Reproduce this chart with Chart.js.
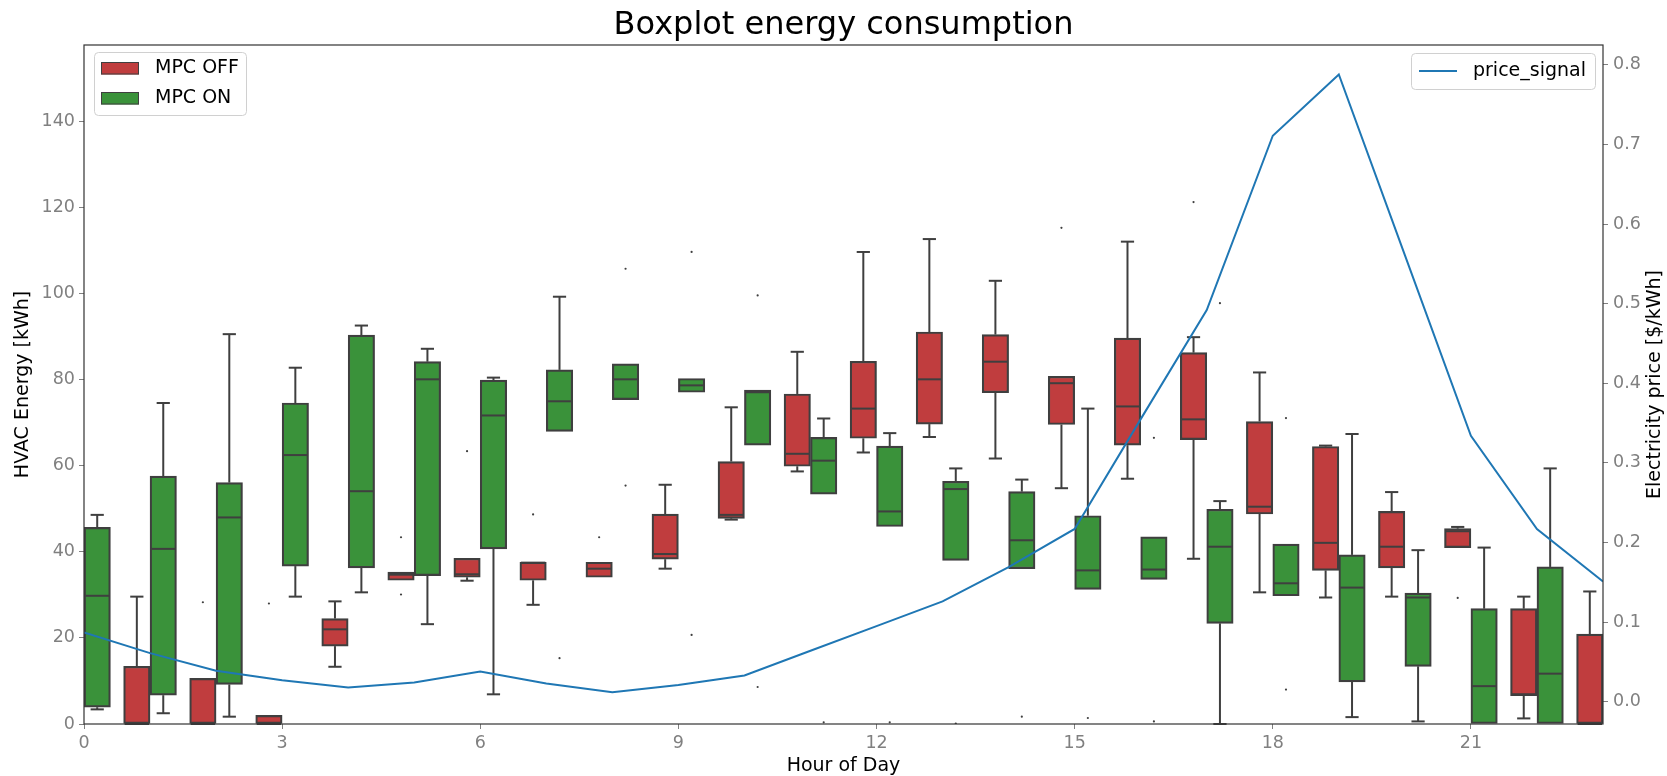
<!DOCTYPE html>
<html><head><meta charset="utf-8">
<script src="https://cdn.jsdelivr.net/npm/chart.js@4.4.1/dist/chart.umd.min.js"></script>
<style>html,body{margin:0;padding:0;background:#fff;}#wrap{width:1667px;height:776px;}</style>
</head><body><div id="wrap"><canvas id="c" width="1667" height="776"></canvas></div>
<script>
// ---------------- data ----------------
const hours = [0,1,2,3,4,5,6,7,8,9,10,11,12,13,14,15,16,17,18,19,20,21,22,23];
const xTicks = [0,3,6,9,12,15,18,21];
const energyTicks = [0,20,40,60,80,100,120,140];
const priceTicks = [0.0,0.1,0.2,0.3,0.4,0.5,0.6,0.7,0.8];

// MPC OFF (per hour): whisker low, Q1, median, Q3, whisker high
const offLow  = [null,0,0,0,13.3,33.4,33.3,27.7,34.1,36.1,47.5,58.7,63.1,66.7,61.7,54.8,57.0,38.4,30.6,29.4,29.6,41.0,1.3,0];
const offQ1   = [null,0,0,0,18.1,33.4,34.1,33.4,34.1,38.3,47.8,59.9,66.4,69.7,77.0,69.6,64.8,66.1,48.8,35.7,36.3,41.0,6.6,0];
const offMed  = [null,0,0,0,22.0,34.7,34.8,37.5,36.1,39.5,48.6,62.8,73.3,80.1,84.2,79.2,73.8,70.8,50.5,42.1,41.2,44.8,6.9,0];
const offQ3   = [null,13.4,10.6,2.0,24.5,35.3,38.5,37.6,37.6,48.8,61.0,76.7,84.3,91.1,90.5,80.8,89.7,86.3,70.3,64.5,49.4,45.4,26.8,20.9];
const offHigh = [null,29.6,10.6,2.0,28.5,35.3,38.5,37.6,37.6,55.6,73.6,86.5,109.7,112.7,103.0,80.8,112.1,89.9,81.7,64.7,53.9,45.8,29.6,30.8];
const offFliers = [[2,28.3],[3,28.0],[5,43.4],[5,30.1],[6,63.4],[7,48.7],[8,43.4],[15,115.3],[17,121.3],[21,29.3]];

// MPC ON (per hour)
const onLow  = [3.4,2.5,1.7,29.6,30.6,23.2,6.9,68.0,75.4,77.1,64.8,53.4,45.9,38.0,36.1,31.3,33.6,0,29.8,1.6,0.6,0,0,null];
const onQ1   = [3.9,6.7,9.2,36.7,36.3,34.5,40.7,68.0,75.4,77.1,64.8,53.4,45.9,38.0,36.1,31.3,33.6,23.4,29.8,9.8,13.4,0,0,null];
const onMed  = [29.8,40.7,48.0,62.5,54.1,80.1,71.7,75.0,80.1,78.7,77.1,61.2,49.4,54.6,42.7,35.7,35.9,41.2,32.7,31.7,29.4,8.8,11.7,null];
const onQ3   = [45.7,57.6,56.1,74.6,90.4,84.2,79.9,82.3,83.7,80.3,77.6,66.6,64.6,56.4,54.0,48.4,43.5,49.9,41.8,39.3,30.4,26.8,36.5,null];
const onHigh = [48.6,74.6,90.6,82.8,92.6,87.2,80.5,99.3,83.7,80.3,77.6,71.0,67.6,59.4,56.8,73.3,43.5,51.8,41.8,67.4,40.4,41.0,59.4,null];
const onFliers = [[7,15.3],[8,105.8],[8,55.4],[9,109.7],[9,20.7],[10,99.6],[10,8.6],[11,0.4],[12,0.4],[13,0.1],[14,1.7],[15,1.4],[16,66.5],[16,0.6],[17,97.8],[18,71.1],[18,8.0]];

// electricity price signal per hour
const priceSignal = [0.087,0.061,0.039,0.027,0.018,0.024,0.038,0.023,0.012,0.021,0.033,0.064,0.095,0.126,0.169,0.217,0.355,0.492,0.711,0.788,0.561,0.334,0.217,0.151];

// ---------------- style ----------------
const RED = '#c03d3e', GREEN = '#3a923a', EDGE = '#3f3f3f', BLUE = '#1f77b4';
const TICK = '#808080', FONT = "'DejaVu Sans', sans-serif";
const OFF_SHIFT = -0.2, ON_SHIFT = 0.2;

function boxData(shift, q1, q3) {
  return hours.map((h, i) => ({x: h + shift, y: q1[i] == null ? null : [q1[i], q3[i]]}));
}
function flierData(shift, list) {
  return list.map(([h, v]) => ({x: h + shift, y: v}));
}

const boxParts = {
  id: 'boxParts',
  afterDatasetDraw(chart, args) {
    const ds = chart.data.datasets[args.index];
    const st = ds.stats;
    if (!st) return;
    const ys = chart.scales.y, ctx = chart.ctx, a = chart.chartArea;
    const p = v => ys.getPixelForValue(v);
    ctx.save();
    ctx.beginPath(); ctx.rect(a.left, a.top, a.right - a.left, a.bottom - a.top + 3); ctx.clip();
    ctx.strokeStyle = EDGE; ctx.lineWidth = 2;
    const seg = (x1, y1, x2, y2) => { ctx.beginPath(); ctx.moveTo(x1, y1); ctx.lineTo(x2, y2); ctx.stroke(); };
    args.meta.data.forEach((bar, i) => {
      if (st.q1[i] == null) return;
      const cx = bar.x, w = bar.width;
      if (st.hi[i] > st.q3[i]) { seg(cx, p(st.q3[i]), cx, p(st.hi[i])); seg(cx - w/4, p(st.hi[i]), cx + w/4, p(st.hi[i])); }
      if (st.lo[i] < st.q1[i]) { seg(cx, p(st.q1[i]), cx, p(st.lo[i])); seg(cx - w/4, p(st.lo[i]), cx + w/4, p(st.lo[i])); }
      seg(cx - w/2 + 1, p(st.med[i]), cx + w/2 - 1, p(st.med[i]));
    });
    ctx.restore();
  }
};

const decorations = {
  id: 'decorations',
  afterDraw(chart) {
    const ctx = chart.ctx, a = chart.chartArea;
    ctx.save();
    // frame
    ctx.strokeStyle = '#333'; ctx.lineWidth = 1.2;
    ctx.strokeRect(a.left, a.top, a.right - a.left, a.bottom - a.top);
    // right axis title (reads bottom to top)
    ctx.fillStyle = '#000'; ctx.font = '19px ' + FONT;
    ctx.textAlign = 'center'; ctx.textBaseline = 'middle';
    ctx.translate(1655, (a.top + a.bottom) / 2);
    ctx.rotate(-Math.PI / 2);
    ctx.fillText('Electricity price [$/kWh]', 0, 0);
    ctx.restore();

    // legends
    const frame = (x, y, w, h) => {
      ctx.save();
      ctx.beginPath();
      ctx.roundRect(x + 0.5, y + 0.5, w, h, 4);
      ctx.fillStyle = 'rgba(255,255,255,0.85)'; ctx.fill();
      ctx.strokeStyle = '#d0d0d0'; ctx.lineWidth = 1; ctx.stroke();
      ctx.restore();
    };
    ctx.save();
    frame(94, 52, 152, 63);
    ctx.font = '19px ' + FONT; ctx.textBaseline = 'middle'; ctx.textAlign = 'left'; ctx.fillStyle = '#000';
    [[RED, 'MPC OFF', 68], [GREEN, 'MPC ON', 98]].forEach(([c, t, yy]) => {
      ctx.fillStyle = c; ctx.fillRect(101, yy - 6, 38, 12.5);
      ctx.strokeStyle = EDGE; ctx.lineWidth = 1; ctx.strokeRect(101.5, yy - 5.5, 37, 11.5);
      ctx.fillStyle = '#000'; ctx.fillText(t, 155, yy);
    });
    frame(1411, 53, 184, 36);
    ctx.strokeStyle = BLUE; ctx.lineWidth = 2;
    ctx.beginPath(); ctx.moveTo(1419, 71); ctx.lineTo(1457, 71); ctx.stroke();
    ctx.fillStyle = '#000'; ctx.fillText('price_signal', 1473, 71);
    ctx.restore();
  }
};

const tickFont = {family: FONT, size: 17.5};

new Chart(document.getElementById('c'), {
  type: 'bar',
  data: {
    datasets: [
      {type: 'line', label: 'price_signal', data: hours.map((h, i) => ({x: h, y: priceSignal[i]})),
       yAxisID: 'y2', borderColor: BLUE, borderWidth: 2, pointRadius: 0, tension: 0, fill: false, order: 0},
      {type: 'scatter', label: 'off fliers', data: flierData(OFF_SHIFT, offFliers), yAxisID: 'y',
       pointRadius: 1.1, backgroundColor: EDGE, borderWidth: 0, order: 1},
      {type: 'scatter', label: 'on fliers', data: flierData(ON_SHIFT, onFliers), yAxisID: 'y',
       pointRadius: 1.1, backgroundColor: EDGE, borderWidth: 0, order: 1},
      {type: 'bar', label: 'MPC OFF', data: boxData(OFF_SHIFT, offQ1, offQ3), yAxisID: 'y',
       backgroundColor: RED, borderColor: EDGE, borderWidth: 2.2, borderSkipped: false,
       grouped: false, barPercentage: 1, categoryPercentage: 1, order: 2,
       clip: {left: 0, right: 0, top: 0, bottom: 3},
       stats: {lo: offLow, q1: offQ1, med: offMed, q3: offQ3, hi: offHigh}},
      {type: 'bar', label: 'MPC ON', data: boxData(ON_SHIFT, onQ1, onQ3), yAxisID: 'y',
       backgroundColor: GREEN, borderColor: EDGE, borderWidth: 2.2, borderSkipped: false,
       grouped: false, barPercentage: 1, categoryPercentage: 1, order: 2,
       clip: {left: 0, right: 0, top: 0, bottom: 3},
       stats: {lo: onLow, q1: onQ1, med: onMed, q3: onQ3, hi: onHigh}}
    ]
  },
  options: {
    responsive: false, animation: false, devicePixelRatio: 1,
    layout: {padding: 0},
    plugins: {
      legend: {display: false}, tooltip: {enabled: false},
      title: {display: true, text: 'Boxplot energy consumption', fullSize: false, color: '#000',
              font: {family: FONT, size: 32, weight: 'normal', lineHeight: 1.2}, padding: {top: 6.6, bottom: 0}}
    },
    scales: {
      x: {type: 'linear', min: 0, max: 23, offset: false,
          afterBuildTicks: s => { s.ticks = xTicks.map(v => ({value: v})); },
          afterFit: s => { s.height = 52; },
          grid: {display: true, drawOnChartArea: false, tickLength: 5, tickColor: TICK, offset: false},
          border: {display: false},
          ticks: {color: TICK, font: tickFont, padding: 4, maxRotation: 0, autoSkip: false},
          title: {display: true, text: 'Hour of Day', color: '#000', font: {family: FONT, size: 19, lineHeight: 1}, padding: {top: 0, bottom: 0.5}}},
      y: {type: 'linear', position: 'left', min: 0, max: 157.8,
          afterBuildTicks: s => { s.ticks = energyTicks.map(v => ({value: v})); },
          afterFit: s => { s.width = 84; },
          grid: {display: true, drawOnChartArea: false, tickLength: 5, tickColor: TICK},
          border: {display: false},
          ticks: {color: TICK, font: tickFont, padding: 4},
          title: {display: true, text: 'HVAC Energy [kWh]', color: '#000', font: {family: FONT, size: 19, lineHeight: 1}, padding: {top: 13.5, bottom: 0}}},
      y2: {type: 'linear', position: 'right', min: -0.028, max: 0.825,
          afterBuildTicks: s => { s.ticks = priceTicks.map(v => ({value: v})); },
          afterFit: s => { s.width = 64; },
          grid: {display: true, drawOnChartArea: false, tickLength: 5, tickColor: TICK},
          border: {display: false},
          ticks: {color: TICK, font: tickFont, padding: 5, callback: v => v.toFixed(1)}}
    }
  },
  plugins: [boxParts, decorations]
});
</script></body></html>
